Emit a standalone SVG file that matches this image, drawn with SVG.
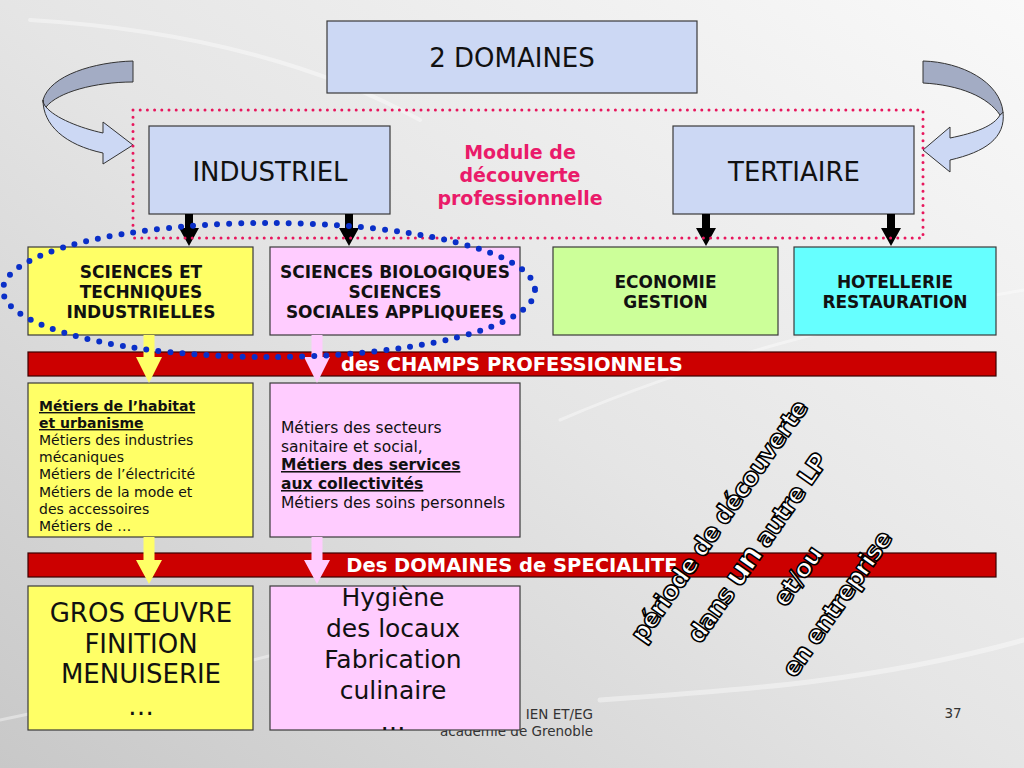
<svg xmlns="http://www.w3.org/2000/svg" width="1024" height="768" viewBox="0 0 1024 768">
<defs>
<linearGradient id="bg" x1="1" y1="0" x2="0" y2="1">
<stop offset="0" stop-color="#f9f9f9"/>
<stop offset="0.5" stop-color="#e5e5e5"/>
<stop offset="1" stop-color="#c8c8c8"/>
</linearGradient>
</defs>
<style>
.box{stroke:#3a3a3a;stroke-width:1.2}
.blue{fill:#ccd8f4}
.yel{fill:#ffff66}
.pnk{fill:#ffccff}
.grn{fill:#ccff99}
.cyn{fill:#66ffff}
.bar{fill:#cc0000;stroke:#3a0000;stroke-width:1.2}
text{font-family:"DejaVu Sans",Verdana,sans-serif;fill:#111}
.b{font-weight:bold}
.c{text-anchor:middle}
.u{text-decoration:underline}
.bt{fill:#fff;font-weight:bold;font-size:19.5px;text-anchor:middle}
.big{font-size:26px;text-anchor:middle}
.mid{font-size:17px;font-weight:bold;text-anchor:middle}
.sm{font-size:14px}
.sm2{font-size:15.5px}
.foot{font-size:13.5px;fill:#333;text-anchor:end}
.rot{font-family:"DejaVu Sans",Verdana,sans-serif;font-weight:bold;font-size:25px;letter-spacing:-1.5px;fill:#fff;stroke:#000;stroke-width:1.6;stroke-linejoin:round;text-anchor:middle}
.blk{fill:#000}
.ya{fill:#ffff66}
.pa{fill:#ffccff}
.loop{stroke:#333;stroke-width:1}
.swoosh{fill:none;stroke:#fff;stroke-linecap:round}
</style>
<rect width="1024" height="768" fill="url(#bg)"/>
<g id="background-swooshes" opacity="0.4">
<path class="swoosh" stroke-width="4" d="M30,20 C200,30 330,70 420,120"/>
<path class="swoosh" stroke-width="3" d="M560,420 C700,360 850,320 1024,290"/>
<path class="swoosh" stroke-width="5" d="M600,700 C750,690 880,680 1024,640"/>
<path class="swoosh" stroke-width="3" d="M0,720 C150,690 280,650 340,640"/>
</g>

<g id="footer">
<text class="foot" x="593" y="719">IEN ET/EG</text>
<text class="foot" x="593" y="736">académie de Grenoble</text>
<text x="953" y="718" style="font-size:13.5px;fill:#333;text-anchor:middle">37</text>
</g>

<g id="bars">
<g id="bar-champs">
<rect class="bar" x="28" y="352" width="968" height="24"/>
<text class="bt" x="512" y="371">des CHAMPS PROFESSIONNELS</text>
</g>
<g id="bar-domaines">
<rect class="bar" x="28" y="553" width="968" height="24"/>
<text class="bt" x="512" y="572">Des DOMAINES de SPECIALITE</text>
</g>
</g>

<g id="node-2domaines">
<rect class="box blue" x="327" y="21" width="370" height="72"/>
<text class="big" x="512" y="67">2 DOMAINES</text>
</g>
<g id="node-industriel">
<rect class="box blue" x="149" y="126" width="241" height="88"/>
<text class="big" x="270" y="181">INDUSTRIEL</text>
</g>
<g id="node-tertiaire">
<rect class="box blue" x="673" y="126" width="241" height="88"/>
<text class="big" x="794" y="181">TERTIAIRE</text>
</g>
<g id="label-module">
<text class="b c" style="font-size:19px;fill:#ea1b6a" x="520" y="159">Module de</text>
<text class="b c" style="font-size:19px;fill:#ea1b6a" x="520" y="182">découverte</text>
<text class="b c" style="font-size:19px;fill:#ea1b6a" x="520" y="205">professionnelle</text>
</g>

<g id="node-sti">
<rect class="box yel" x="28" y="247" width="225" height="88"/>
<text class="mid" x="141" y="278">SCIENCES ET</text>
<text class="mid" x="141" y="298">TECHNIQUES</text>
<text class="mid" x="141" y="318">INDUSTRIELLES</text>
</g>
<g id="node-sbssa">
<rect class="box pnk" x="270" y="247" width="250" height="88"/>
<text class="mid" x="395" y="278">SCIENCES BIOLOGIQUES</text>
<text class="mid" x="395" y="298">SCIENCES</text>
<text class="mid" x="395" y="318">SOCIALES APPLIQUEES</text>
</g>
<g id="node-economie">
<rect class="box grn" x="553" y="247" width="225" height="88"/>
<text class="mid" x="665.5" y="288">ECONOMIE</text>
<text class="mid" x="665.5" y="308">GESTION</text>
</g>
<g id="node-hotellerie">
<rect class="box cyn" x="794" y="247" width="202" height="88"/>
<text class="mid" x="895" y="288">HOTELLERIE</text>
<text class="mid" x="895" y="308">RESTAURATION</text>
</g>

<g id="node-metiers-industriels">
<rect class="box yel" x="28" y="383" width="225" height="154"/>
<text class="sm b u" x="39" y="411">Métiers de l’habitat </text>
<text class="sm b u" x="39" y="428">et urbanisme</text>
<text class="sm" x="39" y="445">Métiers des industries</text>
<text class="sm" x="39" y="462">mécaniques</text>
<text class="sm" x="39" y="479">Métiers de l’électricité</text>
<text class="sm" x="39" y="497">Métiers de la mode et</text>
<text class="sm" x="39" y="514">des accessoires</text>
<text class="sm" x="39" y="531">Métiers de …</text>
</g>
<g id="node-metiers-sociaux">
<rect class="box pnk" x="270" y="383" width="250" height="154"/>
<text class="sm2" x="281" y="433">Métiers des secteurs</text>
<text class="sm2" x="281" y="452">sanitaire et social,</text>
<text class="sm2 b u" x="281" y="470">Métiers des services </text>
<text class="sm2 b u" x="281" y="489">aux collectivités</text>
<text class="sm2" x="281" y="508">Métiers des soins personnels</text>
</g>

<g id="node-gros-oeuvre">
<rect class="box yel" x="28" y="586" width="225" height="144"/>
<text class="big" x="141" y="622">GROS ŒUVRE</text>
<text class="big" x="141" y="653">FINITION</text>
<text class="big" x="141" y="683">MENUISERIE</text>
<text class="big" x="141" y="715">…</text>
</g>
<g id="node-hygiene">
<rect class="box pnk" x="270" y="586" width="250" height="144"/>
<text class="big" style="font-size:25px" x="393" y="606">Hygiène</text>
<text class="big" style="font-size:25px" x="393" y="637">des locaux</text>
<text class="big" style="font-size:25px" x="393" y="668">Fabrication</text>
<text class="big" style="font-size:25px" x="393" y="699">culinaire</text>
<text class="big" style="font-size:25px" x="393" y="730">…</text>
</g>

<g id="connectors">
<path class="blk" d="M185,214 H193 V228 H199 L189,246 L179,228 H185 Z"/>
<path class="blk" d="M345,214 H353 V228 H359 L349,246 L339,228 H345 Z"/>
<path class="blk" d="M702,214 H710 V228 H716 L706,246 L696,228 H702 Z"/>
<path class="blk" d="M887,214 H895 V228 H901 L891,246 L881,228 H887 Z"/>
<path class="ya" d="M143.5,335 H154.5 V357 H162 L149,383 L136,357 H143.5 Z"/>
<path class="pa" d="M311.5,335 H322.5 V357 H330 L317,383 L304,357 H311.5 Z"/>
<path class="ya" d="M143.5,537 H154.5 V560 H162 L149,584 L136,560 H143.5 Z"/>
<path class="pa" d="M311.5,537 H322.5 V560 H330 L317,584 L304,560 H311.5 Z"/>
<g id="loop-left">
<path class="loop" fill="#a3acc4" d="M133,61 C95,62 50,75 43,100 C43,103 44,105 46,107 C58,92 95,82 133,82 Z"/>
<path class="loop" fill="#ccd8f4" d="M43,100 C43,125 65,145 103,153 L103,164 L133,145 L103,122 L103,133 C80,128 55,118 46,107 C44,105 43,103 43,100 Z"/>
</g>
<g id="loop-right">
<path class="loop" fill="#a3acc4" d="M923,61 C962,62 1000,82 1003,112 C1003,113 1001,114 1000,115 C988,97 960,85 923,83 Z"/>
<path class="loop" fill="#ccd8f4" d="M1003,112 C1006,138 985,152 950,160 L950,172 L923,150 L950,127 L950,138 C975,133 994,126 1000,115 C1001,114 1003,113 1003,112 Z"/>
</g>
</g>

<g id="module-frame">
<rect x="133" y="110" width="790" height="128" fill="none" stroke="#e8175d" stroke-width="3" stroke-dasharray="0 7.2" stroke-linecap="round"/>
</g>
<g id="sciences-ellipse">
<ellipse cx="269" cy="290" rx="266" ry="67" fill="none" stroke="#0a2fc8" stroke-width="6" stroke-dasharray="0 12" stroke-linecap="round"/>
</g>

<g id="periode-text" transform="translate(718,521) rotate(-55)">
<text class="rot" x="0" y="9.5">période de découverte</text>
<text class="rot" x="0" y="56.5">dans <tspan style="font-size:31px">un</tspan> autre LP</text>
<text class="rot" x="0" y="105.5">et/ou</text>
<text class="rot" x="0" y="153.5">en entreprise</text>
</g>
</svg>
